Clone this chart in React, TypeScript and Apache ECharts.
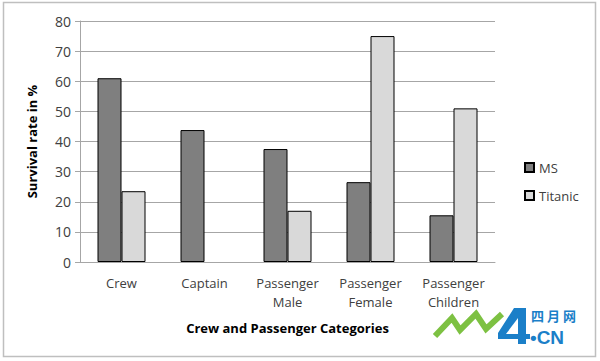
import React, { useEffect, useRef } from "react";
import * as echarts from "echarts";

const categories = ["Crew", "Captain", "Passenger\nMale", "Passenger\nFemale", "Passenger\nChildren"];
const msValues = [61, 43.8, 37.5, 26.5, 15.5];
const titanicValues: (number | null)[] = [23.5, null, 17, 75, 51];
const yTicks = { min: 0, max: 80, interval: 10 };

const FONT = "'Open Sans', 'Noto Sans', sans-serif";

export default function App() {
  const ref = useRef<HTMLDivElement>(null);
  useEffect(() => {
    const chart = echarts.init(ref.current!, null, { renderer: "svg" });
    chart.setOption({
      animation: false,
      backgroundColor: "#ffffff",
      textStyle: { fontFamily: FONT },
      grid: { left: 80, right: 105, top: 21, bottom: 99 },
      legend: {
        orient: "vertical",
        left: 519,
        top: 156,
        itemWidth: 9,
        itemHeight: 9,
        itemGap: 15,
        icon: "rect",
        textStyle: { fontFamily: FONT, fontSize: 13, color: "#404040" },
        data: ["MS", "Titanic"],
      },
      xAxis: {
        type: "category",
        data: categories,
        axisLine: { lineStyle: { color: "#a6a6a6", width: 1 } },
        axisTick: { show: false },
        axisLabel: {
          fontFamily: FONT,
          fontSize: 13,
          color: "#404040",
          margin: 11,
          lineHeight: 19,
          interval: 0,
        },
        name: "Crew and Passenger Categories",
        nameLocation: "middle",
        nameGap: 59,
        nameTextStyle: { fontFamily: FONT, fontSize: 13, fontWeight: "bold", color: "#000" },
      },
      yAxis: {
        type: "value",
        min: yTicks.min,
        max: yTicks.max,
        interval: yTicks.interval,
        axisLine: { show: true, lineStyle: { color: "#a6a6a6", width: 1 } },
        axisTick: { show: true, length: 5, lineStyle: { color: "#a6a6a6" } },
        splitLine: { lineStyle: { color: "#a6a6a6", width: 1 } },
        axisLabel: { fontFamily: FONT, fontSize: 14, color: "#404040", margin: 9 },
        name: "Survival rate in %",
        nameLocation: "middle",
        nameGap: 42,
        nameTextStyle: { fontFamily: FONT, fontSize: 13, fontWeight: "bold", color: "#000" },
      },
      series: [
        {
          name: "MS",
          type: "bar",
          data: msValues,
          barWidth: 24,
          barGap: "0%",
          itemStyle: { color: "#7f7f7f", borderColor: "#000", borderWidth: 1 },
        },
        {
          name: "Titanic",
          type: "bar",
          data: titanicValues,
          barWidth: 24,
          barGap: "0%",
          itemStyle: { color: "#d9d9d9", borderColor: "#000", borderWidth: 1 },
        },
      ],
      graphic: [
        {
          type: "rect",
          shape: { x: 3.5, y: 2.5, width: 592, height: 354 },
          style: { fill: "none", stroke: "#bfbfbf", lineWidth: 1.5 },
          silent: true,
          z: -1,
        },
        {
          type: "polyline",
          shape: { points: [[435, 336], [452, 318], [460, 330], [476, 314], [486, 329], [502, 314]] },
          style: { stroke: "#7dc142", lineWidth: 6, fill: "none", lineJoin: "miter" },
          silent: true,
        },
        {
          type: "polygon",
          shape: { points: [[514, 308], [526, 308], [526, 334], [530, 334], [530, 339], [526, 339], [526, 344], [518, 344], [518, 339], [498, 339], [498, 333]] },
          style: { fill: "#1b7fc8" },
          silent: true,
        },
        {
          type: "polygon",
          shape: { points: [[518, 318], [518, 334], [506, 334]] },
          style: { fill: "#ffffff" },
          silent: true,
        },
        {
          type: "text",
          x: 531,
          y: 309,
          style: { text: "四 月 网", fill: "#1b7fc8", font: "bold 13px 'Noto Sans CJK SC'", verticalAlign: "top" },
          silent: true,
        },
        {
          type: "text",
          x: 530,
          y: 328,
          style: { text: "•CN", fill: "#1b7fc8", font: "bold 19px 'Liberation Sans', sans-serif", verticalAlign: "top" },
          silent: true,
        },
      ],
    });
    return () => chart.dispose();
  }, []);
  return <div ref={ref} style={{ width: 600, height: 361, position: "absolute", left: 0, top: 0 }} />;
}
